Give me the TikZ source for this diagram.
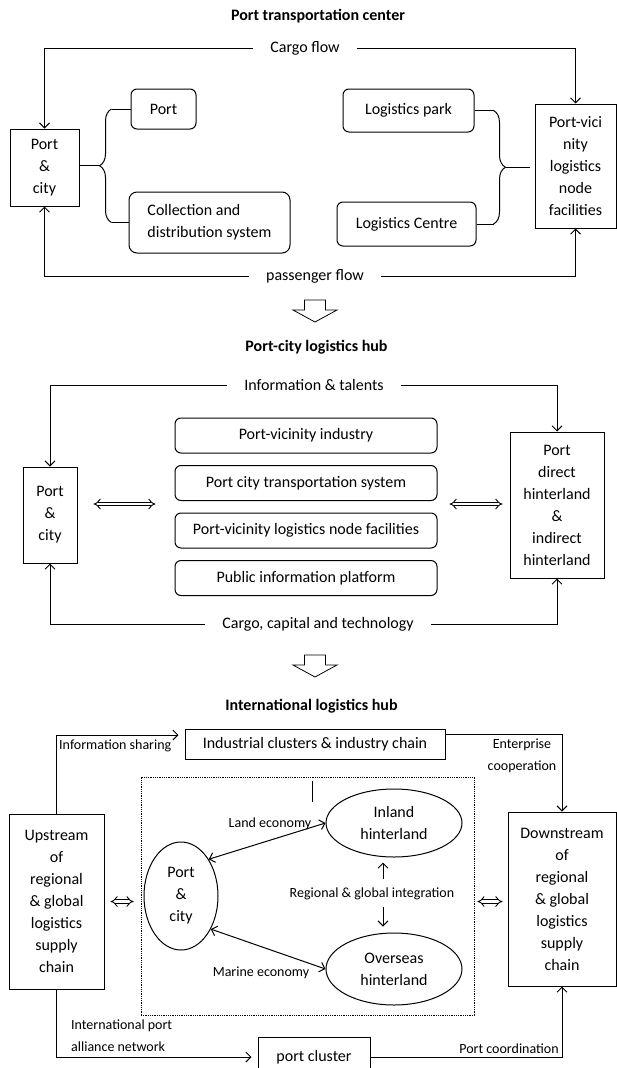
\documentclass[tikz,border=0pt]{standalone}
\usepackage{fontspec}
\setmainfont{Carlito}
\usepackage{tikz}
\usetikzlibrary{arrows.meta, positioning, calc, shapes.geometric, decorations.pathreplacing}
\newcommand{\bodyfont}{\fontsize{16}{22}\selectfont}
\newcommand{\labelfont}{\fontsize{14}{22}\selectfont}
\newcommand{\stagearrow}[1]{\draw[line width=0.8pt, fill=white] (#1) ++(-10.5,0) -- ++(21,0) -- ++(0,10) -- ++(11.5,0) -- ++(-22,12) -- ++(-22,-12) -- ++(11.5,0) -- cycle;}

\begin{document}
\begin{tikzpicture}[x=1pt, y=-1pt,
  box/.style={draw, line width=1pt, font=\bodyfont, align=center, inner sep=0pt},
  rbox/.style={box, rounded corners=6pt},
  oval/.style={ellipse, draw, line width=1pt, inner sep=0pt, font=\bodyfont, align=center},
  flow/.style={font=\bodyfont, inner xsep=17pt, inner ysep=0pt},
  note/.style={font=\labelfont, inner sep=0pt},
  head/.style={font=\bodyfont\bfseries},
  link/.style={line width=1pt},
  arrow/.style={-{Straight Barb[length=5pt,width=10pt]}, line width=1pt},
  both/.style={{Straight Barb[length=5pt,width=10pt]}-{Straight Barb[length=5pt,width=10pt]}, line width=1pt},
  swap/.style={double, double distance=2.8pt, line width=0.9pt, {Implies[length=5pt,width=11pt]}-{Implies[length=5pt,width=11pt]}}
]
  \useasboundingbox (0,0) rectangle (617,1068);

  \node[head] (t1) at (318,16) {Port transportation center};
  \node[box, minimum width=69, minimum height=77] (pc1) at (44.5,167.5) {Port\\\&\\city};
  \node[rbox, minimum width=65, minimum height=40] (port) at (163.5,109) {Port};
  \node[rbox, rounded corners=8pt, minimum width=161, minimum height=61, align=left] (cds) at (209.5,222.5) {Collection and\\distribution system};
  \node[rbox, minimum width=131, minimum height=43] (park) at (408.5,110.5) {Logistics park};
  \node[rbox, minimum width=139, minimum height=44] (centre) at (406.5,224) {Logistics Centre};
  \node[box, minimum width=81, minimum height=124] (pvn) at (575.5,166) {Port-vici\\nity\\logistics\\node\\facilities};
  \node[flow] (cargo) at (305,48) {Cargo flow};
  \node[flow] (pass) at (315,276) {passenger flow};

  \draw[arrow] (cargo.west) -| (pc1.north);
  \draw[arrow] (cargo.east) -| (pvn.north);
  \draw[arrow] (pass.west) -| (pc1.south);
  \draw[arrow] (pass.east) -| (pvn.south);

  \draw[link] (port.west) -- ++(-19,0) coordinate (lb1);
  \draw[link] (cds.west) -- ++(-17,0) coordinate (lb2);
  \draw[link, decorate, decoration={brace, amplitude=12pt}] (lb2) -- (lb1);
  \coordinate (lb) at ($(lb1)!0.5!(lb2)+(-12,0)$);
  \draw[link] (pc1.east |- lb) -- (lb);

  \draw[link] (park.east) -- ++(19,0) coordinate (rb1);
  \draw[link] (centre.east) -- ++(17,0) coordinate (rb2);
  \draw[link, decorate, decoration={brace, amplitude=12pt}] (rb1) -- (rb2);
  \coordinate (rb) at ($(rb1)!0.5!(rb2)+(12,0)$);
  \draw[link, shorten >=5pt] (rb) -- (rb -| pvn.west);

  \stagearrow{315,300}

  \node[head] (t2) at (316.5,347) {Port-city logistics hub};
  \node[box, minimum width=54, minimum height=96] (pc2) at (50,515) {Port\\\&\\city};
  \node[box, minimum width=94, minimum height=146] (hint) at (557,505) {Port\\direct\\hinterland\\\&\\indirect\\hinterland};
  \node[rbox, minimum width=262, minimum height=35] (pvi) at (306,435.5) {Port-vicinity industry};
  \node[rbox, minimum width=262, minimum height=35, below=11.5pt of pvi] (trans) {Port city transportation system};
  \node[rbox, minimum width=262, minimum height=35, below=11.5pt of trans] (node) {Port-vicinity logistics node facilities};
  \node[rbox, minimum width=262, minimum height=35, below=11.5pt of node] (pip) {Public information platform};
  \node[flow] (info) at (314,385) {Information \& talents};
  \node[flow] (cct) at (318,624) {Cargo, capital and technology};

  \draw[arrow] (info.west) -| (pc2.north);
  \draw[arrow] (info.east) -| (hint.north);
  \draw[arrow] (cct.west) -| (pc2.south);
  \draw[arrow] (cct.east) -| (hint.south);
  \coordinate (sw) at ([yshift=-3pt]trans.south west);
  \coordinate (se) at ([yshift=-3pt]trans.south east);
  \draw[swap, shorten <=16pt, shorten >=19pt] (pc2.east |- sw) -- (sw);
  \draw[swap, shorten <=12pt, shorten >=7pt] (se) -- (hint.west |- se);

  \stagearrow{315,655}

  \node[head] (t3) at (311.5,706) {International logistics hub};
  \node[box, minimum width=260, minimum height=30] (ind) at (315,744) {Industrial clusters \& industry chain};
  \node[box, minimum width=95, minimum height=175] (up) at (56.5,901.5) {Upstream\\of\\regional\\\& global\\logistics\\supply\\chain};
  \node[box, minimum width=108, minimum height=174] (down) at (562,899) {Downstream\\of\\regional\\\& global\\logistics\\supply\\chain};
  \node[box, minimum width=112, minimum height=40] (pcl) at (314,1057) {port cluster};
  \node[draw, densely dotted, line width=0.8pt, minimum width=333, minimum height=238] (frame) at (307.5,896) {};
  \node[oval, minimum width=74, minimum height=108] (pc3) at (181,896) {Port\\\&\\city};
  \node[oval, minimum width=136, minimum height=68] (inl) at (394,823) {Inland\\hinterland};
  \node[oval, minimum width=136, minimum height=72] (ovs) at (394,969) {Overseas\\hinterland};
  \node[note] (land) at (270,824) {Land economy};
  \node[note] (marine) at (261,973) {Marine economy};
  \node[note] (rgi) at (372,894) {Regional \& global integration};
  \node[note, anchor=west] (share) at (59,746) {Information sharing};
  \node[note, align=center] (coop) at (522,755.5) {Enterprise\\cooperation};
  \node[note, align=left, anchor=west] (alli) at (71,1036) {International port\\alliance network};
  \node[note] (coord) at (509,1049) {Port coordination};

  \draw[link] ([xshift=4.5pt,yshift=-4pt]frame.north) -- ++(0,21);
  \draw[both] (pc3.53) -- (inl.west);
  \draw[both] (pc3.-48) -- (ovs.west);
  \draw[arrow, shorten <=9pt, shorten >=5pt] ([xshift=11pt]rgi.north) -- ([xshift=11pt]rgi.north |- inl.south);
  \draw[arrow, shorten <=7pt, shorten >=6pt] ([xshift=11pt]rgi.south) -- ([xshift=11pt]rgi.south |- ovs.north);
  \draw[arrow, shorten >=6pt] (up.north) |- ($(ind.west)+(0,-9)$);
  \draw[arrow] ($(ind.east)+(0,-10)$) -| (down.north);
  \draw[arrow, shorten >=6pt] (up.south) |- (pcl.west);
  \draw[arrow] (pcl.east) -| (down.south);
  \draw[swap, shorten <=6pt, shorten >=7pt] (up.east) -- (up.east -| frame.west);
  \draw[swap, shorten <=3pt, shorten >=5pt] (frame.east |- up.east) -- (down.west |- up.east);
\end{tikzpicture}
\end{document}
